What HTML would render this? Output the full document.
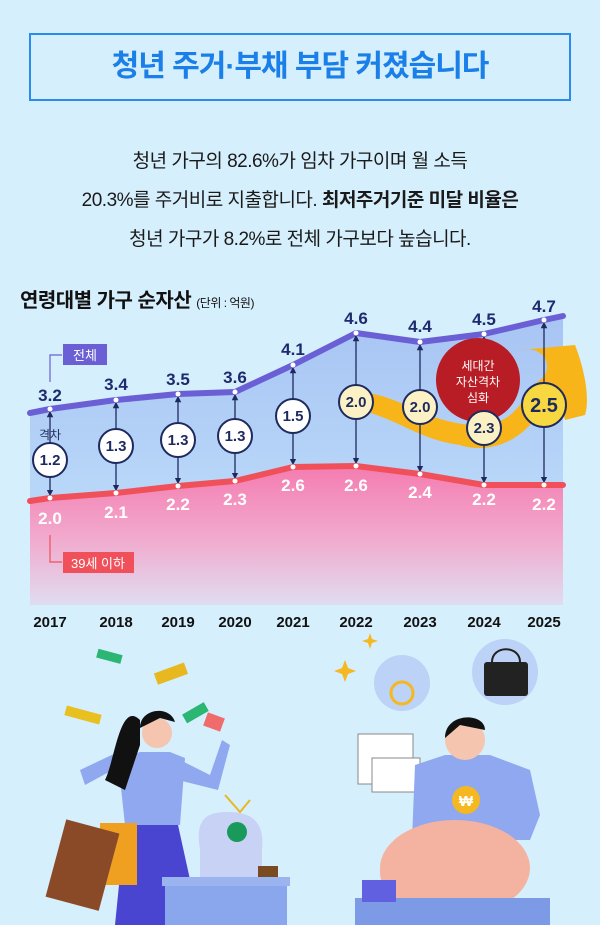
<!DOCTYPE html>
<html><head><meta charset="utf-8"><style>
html,body{margin:0;padding:0}
body{width:600px;height:925px;background:#d6effc;font-family:"Liberation Sans","Noto Sans CJK KR",sans-serif;position:relative;overflow:hidden}
.title{position:absolute;left:29px;top:33px;width:538px;height:64px;border:2px solid #2b8af0;box-sizing:content-box;text-align:center;line-height:64px;color:#1a7fe8;font-size:30px;font-weight:bold;letter-spacing:-1px}
.p{position:absolute;left:0;width:600px;text-align:center;font-size:19px;color:#1a1a1a;letter-spacing:-0.5px}
.ct{position:absolute;left:20px;top:284px;font-size:20px;font-weight:bold;color:#111;letter-spacing:-0.5px}
.ct span{font-size:12px;font-weight:normal}
</style></head><body>
<div class="title">청년 주거·부채 부담 커졌습니다</div>
<div class="p" style="top:146px">청년 가구의 82.6%가 임차 가구이며 월 소득</div>
<div class="p" style="top:185px">20.3%를 주거비로 지출합니다. <b>최저주거기준 미달 비율은</b></div>
<div class="p" style="top:224px">청년 가구가 8.2%로 전체 가구보다 높습니다.</div>
<div class="ct">연령대별 가구 순자산 <span>(단위 : 억원)</span></div>
<svg width="600" height="925" style="position:absolute;left:0;top:0" font-family="Liberation Sans, Noto Sans CJK KR, sans-serif">
<defs>
<linearGradient id="bl" x1="0" y1="0" x2="0" y2="1"><stop offset="0" stop-color="#a8c4f4"/><stop offset="1" stop-color="#b9d8f8"/></linearGradient>
<linearGradient id="pk" x1="0" y1="0" x2="0" y2="1"><stop offset="0" stop-color="#f47cb0"/><stop offset="0.5" stop-color="#f2a8cc"/><stop offset="1" stop-color="#e0dcf0"/></linearGradient>
<marker id="ah" viewBox="0 0 6 6" refX="3" refY="3" markerWidth="5" markerHeight="5" orient="auto-start-reverse"><path d="M0,0 L6,3 L0,6Z" fill="#1e2a5e"/></marker>
</defs>
<path d="M30,413 L50,409 116,400 178,394 235,392 293,365 356,333 420,342 484,334 544,320 563,316 L563,485 544,485 484,485 420,474 356,466 293,467 235,481 178,486 116,493 50,498 30,501Z" fill="url(#bl)"/>
<path d="M30,501 L50,498 116,493 178,486 235,481 293,467 356,466 420,474 484,485 544,485 563,485 L563,605 30,605Z" fill="url(#pk)"/>
<path d="M360,392 C400,395 420,420 470,425 C520,428 520,395 540,380 C555,368 545,345 520,350 L575,345 C585,370 590,400 585,415 L565,420 C560,395 555,385 545,400 C530,440 490,455 460,445 C420,440 400,420 360,410Z" fill="#f7b51a"/>
<polyline points="30,413 50,409 116,400 178,394 235,392 293,365 356,333 420,342 484,334 544,320 563,316" fill="none" stroke="#6a5fd4" stroke-width="6" stroke-linejoin="round" stroke-linecap="round"/>
<polyline points="30,501 50,498 116,493 178,486 235,481 293,467 356,466 420,474 484,485 544,485 563,485" fill="none" stroke="#f0505a" stroke-width="6" stroke-linejoin="round" stroke-linecap="round"/>
<g stroke="#1e2a5e" stroke-width="1.3" marker-start="url(#ah)" marker-end="url(#ah)">
<line x1="50" y1="414" x2="50" y2="493"/><line x1="116" y1="405" x2="116" y2="488"/><line x1="178" y1="399" x2="178" y2="481"/><line x1="235" y1="397" x2="235" y2="476"/><line x1="293" y1="370" x2="293" y2="462"/><line x1="356" y1="338" x2="356" y2="461"/><line x1="420" y1="347" x2="420" y2="469"/><line x1="484" y1="339" x2="484" y2="480"/><line x1="544" y1="325" x2="544" y2="480"/>
</g>
<circle cx="478" cy="380" r="42" fill="#b81c24"/>
<text x="478" y="370" text-anchor="middle" font-size="12" fill="#fff">세대간</text>
<text x="478" y="386" text-anchor="middle" font-size="12" fill="#fff">자산격차</text>
<text x="478" y="402" text-anchor="middle" font-size="12" fill="#fff">심화</text>
<g stroke="#1e2a5e" stroke-width="2">
<circle cx="50" cy="460" r="17" fill="#fff"/><circle cx="116" cy="446" r="17" fill="#fff"/><circle cx="178" cy="440" r="17" fill="#fff"/><circle cx="235" cy="436" r="17" fill="#fff"/><circle cx="293" cy="416" r="17" fill="#fff"/>
<circle cx="356" cy="402" r="17" fill="#fbf1c4"/><circle cx="420" cy="407" r="17" fill="#fbf1c4"/><circle cx="484" cy="428" r="17" fill="#fbf1c4"/><circle cx="544" cy="405" r="22" fill="#f8d840"/>
</g>
<g font-size="15" font-weight="bold" fill="#1e2a5e" text-anchor="middle">
<text x="50" y="465">1.2</text><text x="116" y="451">1.3</text><text x="178" y="445">1.3</text><text x="235" y="441">1.3</text><text x="293" y="421">1.5</text><text x="356" y="407">2.0</text><text x="420" y="412">2.0</text><text x="484" y="433">2.3</text><text x="544" y="412" font-size="20">2.5</text>
</g>
<text x="50" y="439" text-anchor="middle" font-size="12" fill="#1e2a5e">격차</text>
<g fill="#fff"><circle cx="50" cy="409" r="2.5"/><circle cx="116" cy="400" r="2.5"/><circle cx="178" cy="394" r="2.5"/><circle cx="235" cy="392" r="2.5"/><circle cx="293" cy="365" r="2.5"/><circle cx="356" cy="333" r="2.5"/><circle cx="420" cy="342" r="2.5"/><circle cx="484" cy="334" r="2.5"/><circle cx="544" cy="320" r="2.5"/>
<circle cx="50" cy="498" r="2.5"/><circle cx="116" cy="493" r="2.5"/><circle cx="178" cy="486" r="2.5"/><circle cx="235" cy="481" r="2.5"/><circle cx="293" cy="467" r="2.5"/><circle cx="356" cy="466" r="2.5"/><circle cx="420" cy="474" r="2.5"/><circle cx="484" cy="485" r="2.5"/><circle cx="544" cy="485" r="2.5"/></g>
<g font-size="17" font-weight="bold" fill="#1e2a6e" text-anchor="middle">
<text x="50" y="401">3.2</text><text x="116" y="390">3.4</text><text x="178" y="385">3.5</text><text x="235" y="383">3.6</text><text x="293" y="355">4.1</text><text x="356" y="324">4.6</text><text x="420" y="332">4.4</text><text x="484" y="325">4.5</text><text x="544" y="312">4.7</text>
</g>
<g font-size="17" font-weight="bold" fill="#fff" text-anchor="middle">
<text x="50" y="524">2.0</text><text x="116" y="518">2.1</text><text x="178" y="510">2.2</text><text x="235" y="505">2.3</text><text x="293" y="491">2.6</text><text x="356" y="491">2.6</text><text x="420" y="498">2.4</text><text x="484" y="505">2.2</text><text x="544" y="510">2.2</text>
</g>
<polyline points="50,382 50,355 62,355" fill="none" stroke="#6a5fd4" stroke-width="1.2"/>
<rect x="63" y="344" width="44" height="21" fill="#6a5fd4"/><text x="85" y="360" text-anchor="middle" font-size="13" fill="#fff">전체</text>
<polyline points="50,535 50,562 62,562" fill="none" stroke="#f0505a" stroke-width="1.2"/>
<rect x="63" y="552" width="71" height="21" fill="#f0505a"/><text x="98" y="568" text-anchor="middle" font-size="13" fill="#fff">39세 이하</text>
<g font-size="15" font-weight="bold" fill="#111" text-anchor="middle">
<text x="50" y="627">2017</text><text x="116" y="627">2018</text><text x="178" y="627">2019</text><text x="235" y="627">2020</text><text x="293" y="627">2021</text><text x="356" y="627">2022</text><text x="420" y="627">2023</text><text x="484" y="627">2024</text><text x="544" y="627">2025</text>
</g>
<rect x="97" y="652" width="25" height="9" fill="#2bb673" transform="rotate(15 110 656)"/>
<rect x="155" y="668" width="32" height="12" fill="#e8b820" transform="rotate(-20 170 674)"/>
<rect x="65" y="710" width="36" height="10" fill="#e8c020" transform="rotate(15 83 715)"/>
<rect x="183" y="708" width="25" height="10" fill="#2bb673" transform="rotate(-30 195 713)"/>
<path d="M115,925 L125,825 L178,825 L200,925Z" fill="#4a45d0"/>
<path d="M125,825 L118,760 L140,752 L170,752 L185,758 L180,825Z" fill="#8fa8ef"/>
<path d="M122,765 L85,785 L80,770 L118,752Z" fill="#8fa8ef"/>
<path d="M180,760 L210,775 L222,740 L230,745 L218,790 L178,780Z" fill="#8fa8ef"/>
<path d="M140,720 C120,700 115,760 105,780 L125,790 L140,745Z" fill="#111"/>
<circle cx="157" cy="733" r="15" fill="#f5c5b0"/>
<path d="M140,728 C140,708 170,705 175,722 L160,718Z" fill="#111"/>
<rect x="205" y="715" width="18" height="14" fill="#f06b6b" transform="rotate(20 214 722)"/>
<rect x="100" y="823" width="37" height="62" fill="#f0a020"/>
<rect x="55" y="825" width="55" height="80" fill="#8a4a28" transform="rotate(15 82 865)"/>
<path d="M200,925 L200,850 C195,820 205,812 228,812 C250,812 265,820 262,850 L262,925Z" fill="#c8d2f5"/>
<path d="M225,795 L240,812 L250,800" fill="none" stroke="#e8b820" stroke-width="2"/>
<circle cx="237" cy="832" r="10" fill="#1a9a5a"/>
<rect x="258" y="866" width="20" height="46" fill="#7a4a20"/><circle cx="268" cy="889" r="11" fill="#fff" stroke="#2a7a40" stroke-width="3"/>
<rect x="165" y="877" width="122" height="48" fill="#8aa6ec"/><rect x="162" y="877" width="128" height="9" fill="#9bb4f0"/>
<path d="M345,660 l3,8 8,3 -8,3 -3,8 -3,-8 -8,-3 8,-3z" fill="#f5b820"/>
<path d="M370,633 l2,6 6,2 -6,2 -2,6 -2,-6 -6,-2 6,-2z" fill="#f5b820"/>
<circle cx="402" cy="683" r="28" fill="#bcd2f6"/><circle cx="402" cy="693" r="11" fill="none" stroke="#f5b820" stroke-width="3"/>
<circle cx="505" cy="672" r="33" fill="#bcd2f6"/><rect x="484" y="662" width="44" height="34" rx="3" fill="#222"/><path d="M492,662 C492,645 520,645 520,662" fill="none" stroke="#222" stroke-width="2"/>
<rect x="358" y="734" width="55" height="50" fill="#fff" stroke="#888"/><rect x="372" y="758" width="48" height="34" fill="#fff" stroke="#888"/>
<path d="M412,840 L415,765 L445,755 L490,755 L530,770 L540,815 L530,840Z" fill="#8fa8ef"/>
<circle cx="465" cy="740" r="20" fill="#f5c5b0"/><path d="M445,738 C445,712 485,712 485,730 L460,725Z" fill="#111"/>
<circle cx="466" cy="800" r="14" fill="#f5b820"/><text x="466" y="806" text-anchor="middle" font-size="15" font-weight="bold" fill="#fff">₩</text>
<ellipse cx="455" cy="868" rx="75" ry="48" fill="#f4b3a0"/><ellipse cx="395" cy="872" rx="15" ry="22" fill="#f4b3a0"/>
<rect x="355" y="898" width="195" height="27" fill="#7c9ae6"/>
<rect x="362" y="880" width="34" height="22" fill="#6060e0"/>
</svg>
</body></html>
